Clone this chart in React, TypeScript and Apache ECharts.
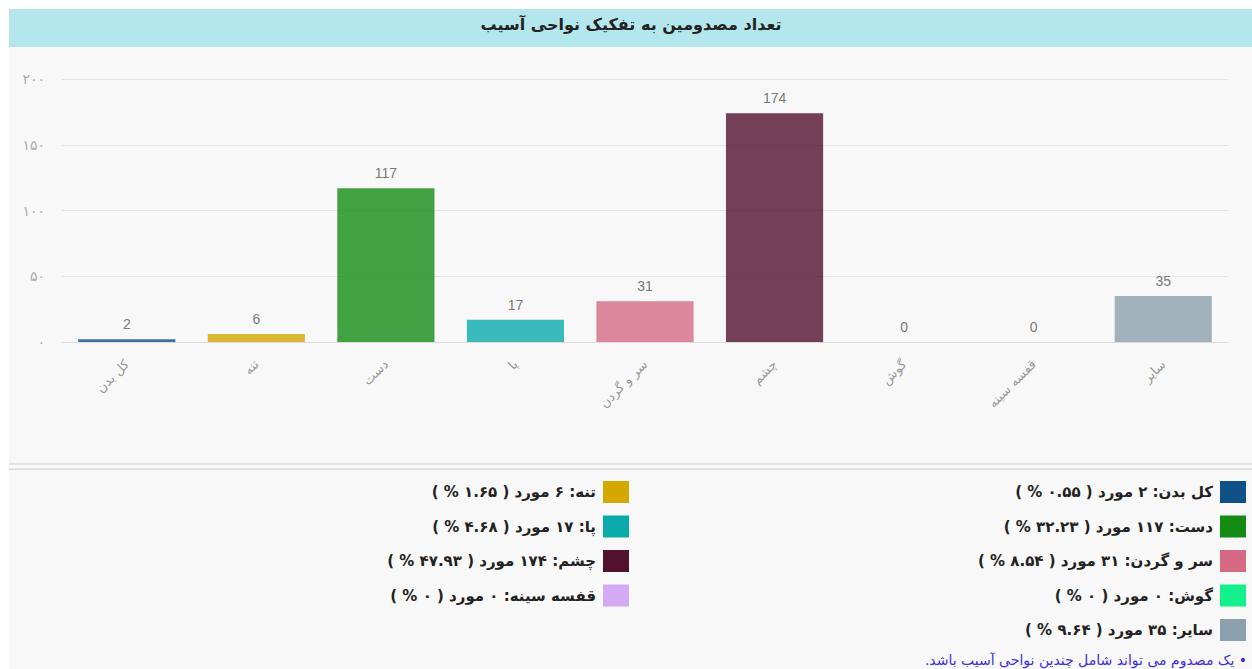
import React, { useEffect, useRef } from "react";
import * as echarts from "echarts";

const categories = ["کل بدن", "تنه", "دست", "پا", "سر و گردن", "چشم", "گوش", "قفسه سینه", "سایر"];
const counts = [2, 6, 117, 17, 31, 174, 0, 0, 35];
const percents = ["0.55", "1.65", "32.23", "4.68", "8.54", "47.93", "0", "0", "9.64"];
const colors = ["#0f5086", "#d4a800", "#148c14", "#0aaaaa", "#d46a84", "#52122e", "#14f08c", "#d4aaf4", "#8ca0ae"];
const yTicks = [0, 50, 100, 150, 200];
const titleText = "تعداد مصدومین به تفکیک نواحی آسیب";
const footnote = "• یک مصدوم می تواند شامل چندین نواحی آسیب باشد.";

const FA = "۰۱۲۳۴۵۶۷۸۹";
const fa = (s: string | number) => String(s).replace(/[0-9]/g, (d) => FA[Number(d)]);
const rtl = (s: string) => "\u202B" + s + "\u202C";
const PFONT = "'DejaVu Sans', sans-serif";

export default function App() {
  const ref = useRef<HTMLDivElement>(null);
  useEffect(() => {
    if (!ref.current) return;
    const chart = echarts.init(ref.current, null, { renderer: "svg" });

    const legendEls: any[] = [];
    categories.forEach((name, i) => {
      const col = i % 2; // 0 right, 1 left
      const row = Math.floor(i / 2);
      const swX = col === 0 ? 1220 : 603;
      const cy = 492 + row * 34.5;
      legendEls.push({
        type: "rect",
        shape: { x: swX, y: cy - 11, width: 26, height: 22 },
        style: { fill: colors[i] },
        silent: true,
      });
      legendEls.push({
        type: "text",
        x: swX - 7,
        y: cy,
        style: {
          text: rtl(`${name}: ${fa(counts[i])} مورد ( ${fa(percents[i])} % )`),
          font: `bold 15px ${PFONT}`,
          fill: "#222",
          align: "right",
          verticalAlign: "middle",
        },
        silent: true,
      });
    });

    chart.setOption({
      animation: false,
      backgroundColor: "#ffffff",
      grid: { left: 62, right: 24, top: 79, bottom: 327 },
      graphic: [
        { type: "rect", z: -10, shape: { x: 9, y: 47, width: 1243, height: 622 }, style: { fill: "#f8f8f8" }, silent: true },
        { type: "rect", z: -10, shape: { x: 9, y: 9, width: 1243, height: 38 }, style: { fill: "#b3e7ed" }, silent: true },
        {
          type: "text", x: 631, y: 24,
          style: { text: titleText, font: `bold 16px ${PFONT}`, fill: "#222", align: "center", verticalAlign: "middle" },
          silent: true,
        },
        { type: "rect", shape: { x: 9, y: 463, width: 1243, height: 2 }, style: { fill: "#e2e2e2" }, silent: true },
        { type: "rect", shape: { x: 9, y: 468.5, width: 1243, height: 1.5 }, style: { fill: "#d6d6d6" }, silent: true },
        ...legendEls,
        {
          type: "text", x: 1247, y: 660,
          style: { text: rtl(footnote), font: `14px ${PFONT}`, fill: "#3a2ee0", align: "right", verticalAlign: "middle" },
          silent: true,
        },
      ],
      xAxis: {
        type: "category",
        data: categories,
        axisLine: { show: true, lineStyle: { color: "#dcdcdc" } },
        axisTick: { show: false },
        axisLabel: {
          rotate: 45,
          color: "#999",
          fontSize: 13,
          fontFamily: PFONT,
          margin: 20,
          interval: 0,
        },
      },
      yAxis: {
        type: "value",
        min: 0,
        max: 200,
        interval: 50,
        axisLine: { show: false },
        axisTick: { show: false },
        splitLine: { lineStyle: { color: "#e4e4e4" } },
        axisLabel: {
          color: "#aaa",
          fontSize: 14,
          fontFamily: PFONT,
          margin: 17,
          formatter: (v: number) => (yTicks.includes(v) ? fa(v) : ""),
        },
      },
      series: [
        {
          type: "bar",
          barWidth: "75%",
          data: counts.map((v, i) => ({ value: v, itemStyle: { color: colors[i], opacity: 0.8 } })),
          label: {
            show: true,
            position: "top",
            distance: 8,
            color: "#555",
            fontSize: 14,
            fontFamily: "'Liberation Sans', Arial, sans-serif",
          },
        },
      ],
    });
    return () => chart.dispose();
  }, []);
  return <div ref={ref} style={{ position: "fixed", left: 0, top: 0, width: 1252, height: 669 }} />;
}
